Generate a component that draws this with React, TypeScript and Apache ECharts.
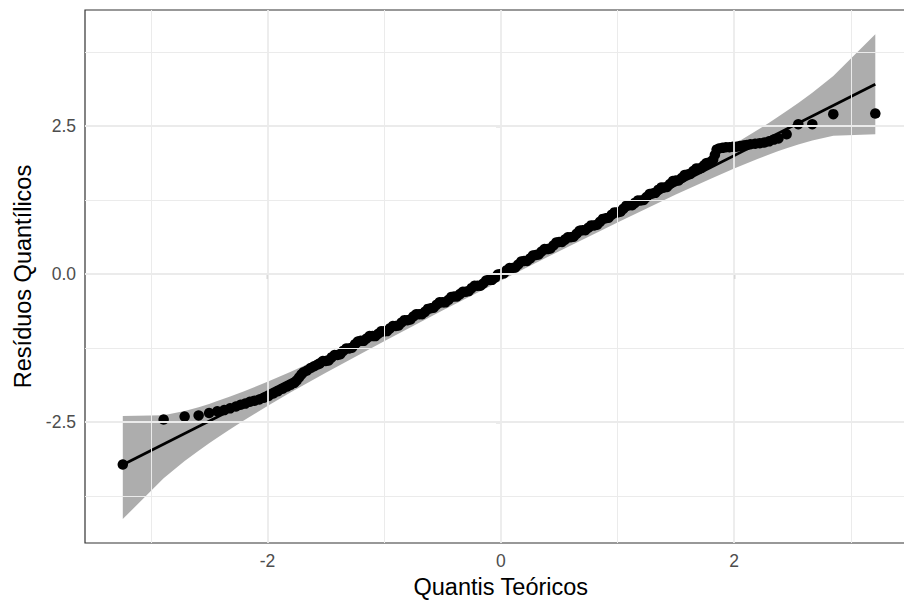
import React, { useEffect, useRef } from "react";
import * as echarts from "echarts";

// QQ points [theoretical quantile, sample quantile]
const lowerTail: number[][] = [
  [-3.24, -3.22], [-2.89, -2.46], [-2.71, -2.41], [-2.59, -2.39], [-2.5, -2.35], [-2.43, -2.32],
  [-2.37, -2.3], [-2.32, -2.27], [-2.27, -2.24], [-2.23, -2.21], [-2.19, -2.19], [-2.15, -2.16],
  [-2.11, -2.14], [-2.07, -2.12], [-2.03, -2.09], [-1.99, -2.06], [-1.95, -2.02], [-1.91, -1.98],
  [-1.87, -1.94], [-1.83, -1.9], [-1.8, -1.87], [-1.77, -1.84], [-1.75, -1.8], [-1.73, -1.75],
  [-1.71, -1.7], [-1.69, -1.66], [-1.66, -1.63], [-1.63, -1.59], [-1.6, -1.56], [-1.57, -1.53],
];
const middle: number[][] = [
  [-1.55, -1.51], [-1.525, -1.47], [-1.5, -1.47], [-1.475, -1.46], [-1.45, -1.41], [-1.425, -1.37],
  [-1.4, -1.37], [-1.375, -1.355], [-1.35, -1.3], [-1.325, -1.26], [-1.3, -1.26], [-1.275, -1.245],
  [-1.25, -1.19], [-1.225, -1.14], [-1.2, -1.13], [-1.175, -1.13], [-1.15, -1.09], [-1.125, -1.05],
  [-1.1, -1.05], [-1.075, -1.05], [-1.05, -1.01], [-1.025, -0.97], [-1.0, -0.97], [-0.975, -0.965],
  [-0.95, -0.92], [-0.925, -0.88], [-0.9, -0.88], [-0.875, -0.87], [-0.85, -0.82], [-0.825, -0.78],
  [-0.8, -0.78], [-0.775, -0.77], [-0.75, -0.72], [-0.725, -0.68], [-0.7, -0.68], [-0.675, -0.68],
  [-0.65, -0.64], [-0.625, -0.59], [-0.6, -0.58], [-0.575, -0.57], [-0.55, -0.52], [-0.525, -0.48],
  [-0.5, -0.48], [-0.475, -0.48], [-0.45, -0.44], [-0.425, -0.39], [-0.4, -0.38], [-0.375, -0.38],
  [-0.35, -0.34], [-0.325, -0.3], [-0.3, -0.3], [-0.275, -0.29], [-0.25, -0.24], [-0.225, -0.2],
  [-0.2, -0.2], [-0.175, -0.2], [-0.15, -0.16], [-0.125, -0.11], [-0.1, -0.1], [-0.075, -0.1],
  [-0.05, -0.06], [-0.025, -0.01], [0.0, 0.0], [0.025, 0.01], [0.05, 0.06], [0.075, 0.1],
  [0.1, 0.1], [0.125, 0.11], [0.15, 0.16], [0.175, 0.21], [0.2, 0.22], [0.225, 0.22],
  [0.25, 0.26], [0.275, 0.31], [0.3, 0.32], [0.325, 0.33], [0.35, 0.38], [0.375, 0.42],
  [0.4, 0.42], [0.425, 0.43], [0.45, 0.48], [0.475, 0.53], [0.5, 0.54], [0.525, 0.54],
  [0.55, 0.58], [0.575, 0.62], [0.6, 0.62], [0.625, 0.63], [0.65, 0.68], [0.675, 0.73],
  [0.7, 0.74], [0.725, 0.74], [0.75, 0.78], [0.775, 0.82], [0.8, 0.82], [0.825, 0.83],
  [0.85, 0.88], [0.875, 0.93], [0.9, 0.94], [0.925, 0.95], [0.95, 1.0], [0.975, 1.04],
  [1.0, 1.04], [1.025, 1.05], [1.05, 1.1], [1.075, 1.15], [1.1, 1.16], [1.125, 1.16],
  [1.15, 1.2], [1.175, 1.24], [1.2, 1.24], [1.225, 1.25], [1.25, 1.3], [1.275, 1.35],
  [1.3, 1.36], [1.325, 1.37], [1.35, 1.42], [1.375, 1.46], [1.4, 1.46], [1.425, 1.47],
  [1.45, 1.52], [1.475, 1.57], [1.5, 1.58], [1.525, 1.58], [1.55, 1.62], [1.575, 1.67],
  [1.6, 1.68], [1.625, 1.69], [1.65, 1.74], [1.675, 1.78], [1.7, 1.78], [1.72, 1.79],
  [1.74, 1.83], [1.76, 1.87], [1.78, 1.88], [1.8, 1.89], [1.82, 1.93],
];
const upperTail: number[][] = [
  [1.835, 2.01], [1.85, 2.1], [1.87, 2.12], [1.9, 2.13], [1.93, 2.14], [1.96, 2.14],
  [1.99, 2.15], [2.02, 2.15], [2.05, 2.16], [2.08, 2.17], [2.11, 2.18], [2.14, 2.19],
  [2.18, 2.2], [2.22, 2.21], [2.26, 2.22], [2.3, 2.24], [2.34, 2.27], [2.38, 2.29],
  [2.45, 2.36], [2.55, 2.53], [2.67, 2.53], [2.85, 2.7], [3.21, 2.71],
];

// Reference line (qq line) end points
const lineX = [-3.24, 3.21];
const lineY = [-3.225, 3.205];

// Confidence band
const bandX = [
  -3.24, -2.89, -2.71, -2.59, -2.5, -2.43, -2.32, -2.2, -2.0, -1.8, -1.5, -1.0, -0.5, 0.0,
  0.5, 1.0, 1.5, 1.8, 2.0, 2.2, 2.3, 2.38, 2.45, 2.55, 2.67, 2.85, 3.21,
];
const bandUpper = [
  -2.4, -2.385, -2.315, -2.251, -2.196, -2.146, -2.072, -1.982, -1.821, -1.65, -1.382, -0.911, -0.425, 0.073,
  0.579, 1.095, 1.628, 1.96, 2.191, 2.432, 2.556, 2.659, 2.752, 2.889, 3.061, 3.342, 4.05,
];
const bandLower = [
  -4.14, -3.453, -3.161, -2.985, -2.86, -2.768, -2.622, -2.472, -2.231, -2.0, -1.668, -1.135, -0.619, -0.113,
  0.385, 0.871, 1.342, 1.61, 1.781, 1.942, 2.018, 2.075, 2.122, 2.187, 2.255, 2.336, 2.36,
];

// Axes
const xMajorTicks = [-2, 0, 2];
const xMinorLines = [-3, -1, 1, 3];
const yMajorTicks = [-2.5, 0, 2.5];
const yMinorLines = [-3.75, -1.25, 1.25, 3.75];
const xRange = [-3.564, 3.564];
const yRange = [-4.545, 4.459];

const xTitle = "Quantis Teóricos";
const yTitle = "Resíduos Quantílicos";

const FONT = "'Liberation Sans', Arial, Helvetica, sans-serif";

export default function App() {
  const ref = useRef<HTMLDivElement | null>(null);

  useEffect(() => {
    if (!ref.current) return;
    const chart = echarts.init(ref.current, undefined, { renderer: "svg" });

    const points = [...lowerTail, ...middle, ...upperTail];
    const lineData = lineX.map((x, i) => [x, lineY[i]]);

    const gridMarks = [
      ...xMajorTicks.map((v) => ({ xAxis: v, lineStyle: { width: 1.8 } })),
      ...xMinorLines.map((v) => ({ xAxis: v, lineStyle: { width: 1.0 } })),
      ...yMajorTicks.map((v) => ({ yAxis: v, lineStyle: { width: 1.8 } })),
      ...yMinorLines.map((v) => ({ yAxis: v, lineStyle: { width: 1.0 } })),
    ];

    chart.setOption({
      animation: false,
      backgroundColor: "#ffffff",
      textStyle: { fontFamily: FONT },
      grid: {
        left: 85,
        top: 10,
        width: 831.6,
        height: 533,
        show: true,
        borderColor: "#333333",
        borderWidth: 1.2,
        backgroundColor: "transparent",
        outerBoundsMode: "none",
        containLabel: false,
      },
      xAxis: {
        type: "value",
        min: xRange[0],
        max: xRange[1],
        axisLine: { show: false },
        axisTick: {
          show: true,
          customValues: xMajorTicks,
          length: 5,
          lineStyle: { color: "#333333", width: 1.2 },
        },
        axisLabel: {
          customValues: xMajorTicks,
          color: "#4D4D4D",
          fontSize: 17.5,
          fontFamily: FONT,
          margin: 9,
        },
        splitLine: { show: false },
        name: xTitle,
        nameLocation: "middle",
        nameGap: 31,
        nameTextStyle: { fontSize: 23.5, color: "#000000", fontFamily: FONT },
      },
      yAxis: {
        type: "value",
        min: yRange[0],
        max: yRange[1],
        axisLine: { show: false },
        axisTick: {
          show: true,
          customValues: yMajorTicks,
          length: 5,
          lineStyle: { color: "#333333", width: 1.2 },
        },
        axisLabel: {
          customValues: yMajorTicks,
          color: "#4D4D4D",
          fontSize: 17.5,
          fontFamily: FONT,
          margin: 9,
          formatter: (v: number) => v.toFixed(1),
        },
        splitLine: { show: false },
        name: yTitle,
        nameLocation: "middle",
        nameGap: 48,
        nameTextStyle: { fontSize: 23.5, color: "#000000", fontFamily: FONT },
      },
      series: [
        {
          type: "line",
          data: [],
          z: 1,
          silent: true,
          markLine: {
            silent: true,
            symbol: ["none", "none"],
            label: { show: false },
            lineStyle: { color: "#EBEBEB", type: "solid" },
            data: gridMarks,
          },
        },
        {
          type: "custom",
          z: 2,
          silent: true,
          data: [[bandX[0], bandUpper[0]]],
          renderItem: (params: any, api: any) => {
            const pts: number[][] = [];
            for (let i = 0; i < bandX.length; i++) pts.push(api.coord([bandX[i], bandUpper[i]]));
            for (let i = bandX.length - 1; i >= 0; i--) pts.push(api.coord([bandX[i], bandLower[i]]));
            return {
              type: "polygon",
              shape: { points: pts },
              style: { fill: "rgba(153,153,153,0.8)", stroke: "none" },
            };
          },
        },
        {
          type: "line",
          z: 3,
          silent: true,
          data: lineData,
          symbol: "none",
          lineStyle: { color: "#000000", width: 2.8 },
        },
        {
          type: "scatter",
          z: 4,
          silent: true,
          data: points,
          symbol: "circle",
          symbolSize: 10.5,
          itemStyle: { color: "#000000", opacity: 1 },
        },
      ],
    });

    return () => chart.dispose();
  }, []);

  return (
    <div
      ref={ref}
      style={{ position: "fixed", left: 0, top: 0, width: 904, height: 604, background: "#fff" }}
    />
  );
}
